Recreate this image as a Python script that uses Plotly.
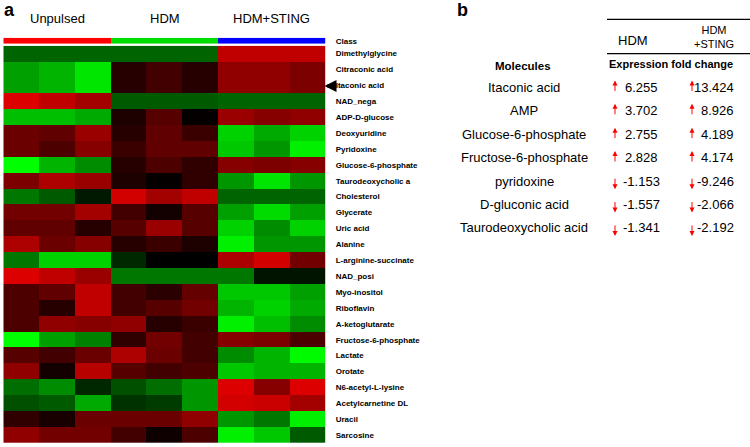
import plotly.graph_objects as go

# ---------------- data ----------------
metabolites = [
    "Dimethylglycine", "Citraconic acid", "Itaconic acid", "NAD_nega", "ADP-D-glucose",
    "Deoxyuridine", "Pyridoxine", "Glucose-6-phosphate", "Taurodeoxycholic a", "Cholesterol",
    "Glycerate", "Uric acid", "Alanine", "L-arginine-succinate", "NAD_posi",
    "Myo-inositol", "Riboflavin", "A-ketoglutarate", "Fructose-6-phosphate", "Lactate",
    "Orotate", "N6-acetyl-L-lysine", "Acetylcarnetine DL", "Uracil", "Sarcosine",
]
groups = ["Unpulsed", "HDM", "HDM+STING"]
class_codes = [0, 0, 0, 1, 1, 1, 2, 2, 2]

# colour intensity per cell: + = red level, - = green level
unpulsed = [
    [-100, -100, -100], [-160, -180, -230], [-160, -180, -230], [230, 200, 170], [-190, -190, -170],
    [110, 100, 160], [110, 80, 140], [-255, -180, -140], [130, 180, 160], [-120, -90, -25],
    [120, 120, 170], [100, 100, 40], [180, 110, 140], [-120, -210, -210], [230, 200, 160],
    [80, 100, 200], [80, 40, 200], [80, 150, 140], [-255, -160, -130], [90, 70, 110],
    [150, 20, 190], [-110, -140, -40], [-80, -90, -170], [50, 25, 110], [150, 120, 120],
]
hdm = [
    [-100, -100, -100], [40, 70, 40], [40, 70, 40], [-90, -90, -90], [30, 90, 5],
    [40, 100, 60], [60, 100, 100], [40, 80, 50], [30, 5, 50], [220, 170, 200],
    [70, 20, 90], [90, 160, 90], [40, 60, 30], [-40, 0, 0], [-120, -120, -120],
    [70, 45, 105], [70, 90, 120], [150, 40, 60], [50, 120, 70], [180, 110, 70],
    [90, 70, 80], [-80, -110, -150], [-50, -60, -150], [110, 110, 150], [70, 15, 80],
]
hdm_sting = [
    [200, 200, 200], [150, 150, 130], [150, 150, 130], [-100, -100, -100], [160, 140, 150],
    [-210, -170, -210], [-200, -150, -240], [140, 130, 140], [-150, -230, -150], [-100, -100, -100],
    [-160, -220, -160], [-210, -140, -210], [-240, -150, -150], [180, 220, 120], [-120, -20, -20],
    [-200, -200, -160], [-180, -210, -170], [-240, -190, -140], [140, 130, 80], [-140, -180, -250],
    [-200, -180, -180], [230, 140, 230], [220, 210, 170], [-150, -120, -240], [-240, -200, -90],
]

molecules = ["Itaconic acid", "AMP", "Glucose-6-phosphate", "Fructose-6-phosphate",
             "pyridoxine", "D-gluconic acid", "Taurodeoxycholic acid"]
fold_hdm = ["6.255", "3.702", "2.755", "2.828", "-1.153", "-1.557", "-1.341"]
fold_sting = ["13.424", "8.926", "4.189", "4.174", "-9.246", "-2.066", "-2.192"]

# ---------------- figure ----------------
W, H = 750, 447
def px(x): return x / W
def py(y): return 1 - y / H

z = [u + h + s for u, h, s in zip(unpulsed, hdm, hdm_sting)]
cols = list(range(9))

fig = go.Figure()
fig.add_trace(go.Heatmap(
    z=z, x=cols, y=metabolites,
    colorscale=[[0, "rgb(0,255,0)"], [0.5, "rgb(0,0,0)"], [1, "rgb(245,0,0)"]],
    zmin=-255, zmax=255, showscale=False, xaxis="x", yaxis="y", hoverinfo="skip"))
fig.add_trace(go.Heatmap(
    z=[class_codes], x=cols, y=["Class"],
    colorscale=[[0, "#ff0000"], [0.333, "#ff0000"], [0.334, "#00dd00"], [0.666, "#00dd00"],
                [0.667, "#0000ff"], [1, "#0000ff"]],
    zmin=0, zmax=2, showscale=False, xaxis="x", yaxis="y2", hoverinfo="skip"))

lab_font = dict(family="Liberation Sans, Arial", size=8, color="black", weight="bold")
fig.update_layout(
    width=W, height=H, margin=dict(l=0, r=0, t=0, b=0),
    paper_bgcolor="white", plot_bgcolor="white", showlegend=False,
    xaxis=dict(domain=[px(3.3), px(325.7)], range=[-0.5, 8.5], showticklabels=False,
               showgrid=False, zeroline=False, ticks="", anchor="y"),
    yaxis=dict(domain=[py(445), py(45)], autorange="reversed", side="right", anchor="x",
               showgrid=False, zeroline=False, ticks="", tickfont=lab_font,
               ticklabelstandoff=9, tickmode="array", tickvals=metabolites, ticktext=metabolites),
    yaxis2=dict(domain=[py(43), py(37)], side="right", anchor="x",
                showgrid=False, zeroline=False, ticks="", tickfont=lab_font,
                ticklabelstandoff=9),
)

ann = []
def text_ann(text, x, y, size, family="Liberation Sans, Arial", xanchor="center", color="black"):
    return dict(text=text, x=px(x), y=py(y), xref="paper", yref="paper", showarrow=False,
                xanchor=xanchor, yanchor="middle", font=dict(family=family, size=size, color=color))

# panel letters
ann.append(text_ann("<b>a</b>", 2, 9, 18, xanchor="left"))
ann.append(text_ann("<b>b</b>", 455, 9, 18, xanchor="left"))
# group titles
for i, g in enumerate(groups):
    ann.append(dict(text=g, x=3 * i + 1, xref="x", y=py(18), yref="paper", showarrow=False,
                    xanchor="center", yanchor="middle",
                    font=dict(family="Liberation Sans", size=13, color="black")))
# arrow pointing to Itaconic acid
ann.append(dict(text="", x=px(324.5), y=py(85.5), xref="paper", yref="paper", showarrow=True,
                ax=10, ay=0, arrowhead=2, arrowsize=0.6, arrowwidth=4, arrowcolor="black", standoff=0))

# table b
ann.append(text_ann("HDM", 633, 40, 13))
ann.append(text_ann("HDM<br>+STING", 714, 36, 11))
ann.append(text_ann("<b>Expression fold change</b>", 607, 63, 11, xanchor="left"))
ann.append(text_ann("<b>Molecules</b>", 523, 65, 11.5))

row_y = [87, 110.5, 134.5, 158, 181.5, 205, 228.5]
for m, a, b, yy in zip(molecules, fold_hdm, fold_sting, row_y):
    ann.append(text_ann(m, 524, yy, 13))
    ann.append(text_ann(a, 641.5, yy, 13))
    ann.append(text_ann(b, 736, yy, 13, xanchor="right"))
    for val, ax_x in ((a, 615), (b, 692)):
        up = not val.startswith("-")
        tip = yy - 7 if up else yy + 8
        ann.append(dict(text="", x=px(ax_x), y=py(tip), xref="paper", yref="paper",
                        showarrow=True, ax=0, ay=12 if up else -12, arrowhead=2,
                        arrowsize=1.0, arrowwidth=1, arrowcolor="red", standoff=0))

fig.update_layout(annotations=ann)
fig.add_shape(type="line", x0=px(607), x1=px(750), y0=py(18.5), y1=py(18.5), xref="paper", yref="paper",
              line=dict(color="black", width=1.2))
fig.add_shape(type="line", x0=px(607), x1=px(750), y0=py(53), y1=py(53), xref="paper", yref="paper",
              line=dict(color="black", width=1.2))

fig.write_html("out.html", config={"displayModeBar": False},
               post_script="document.body.style.margin='0px';")
